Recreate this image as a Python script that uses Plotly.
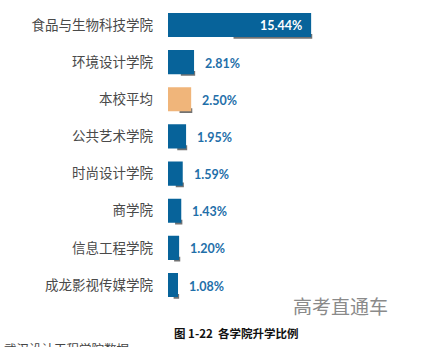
import plotly.graph_objects as go

# 各学院升学比例（%）
colleges = ["食品与生物科技学院", "环境设计学院", "本校平均", "公共艺术学院",
            "时尚设计学院", "商学院", "信息工程学院", "成龙影视传媒学院"]
rates = [15.44, 2.81, 2.50, 1.95, 1.59, 1.43, 1.20, 1.08]
value_labels = ["15.44%", "2.81%", "2.50%", "1.95%", "1.59%", "1.43%", "1.20%", "1.08%"]

BLUE = "#07639a"
ORANGE = "#f0b57a"
bar_colors = [ORANGE if c == "本校平均" else BLUE for c in colleges]

W, H = 423, 347
fig = go.Figure()

# soft curled shadow under the right part of each bar
fig.add_trace(go.Bar(
    y=colleges, x=[v * 0.55 for v in rates], base=[v * 0.45 + 0.12 for v in rates],
    orientation="h", width=0.13, offset=0.24,
    marker=dict(color="rgba(20,20,20,0.6)", line=dict(width=0)),
    hoverinfo="skip", showlegend=False,
))

fig.add_trace(go.Bar(
    y=colleges, x=rates, orientation="h", width=0.65,
    marker=dict(color=bar_colors, line=dict(width=0)),
    showlegend=False,
))

# value labels
for i, (c, v, t) in enumerate(zip(colleges, rates, value_labels)):
    inside = i == 0
    fig.add_annotation(
        x=v, y=c, xref="x", yref="y", text=f"<b>{t}</b>",
        showarrow=False, xanchor="right" if inside else "left",
        xshift=-7 if inside else 9, yshift=-1,
        font=dict(family="Lato, Open Sans, sans-serif", size=12.5,
                  color="white" if inside else "#1f6fa9"),
    )

# watermark and caption
fig.add_annotation(x=340 / W, y=1 - 305 / H, xref="paper", yref="paper",
                   xanchor="center", yanchor="middle",
                   text="高考直通车", showarrow=False,
                   font=dict(family="Noto Sans CJK SC", size=19, color="#8a8a8a"))
fig.add_annotation(x=236 / W, y=1 - 333 / H, xref="paper", yref="paper",
                   xanchor="center", yanchor="middle",
                   text="<b>图 1-22  各学院升学比例</b>", showarrow=False,
                   font=dict(family="Noto Sans CJK SC", size=11.5, color="#111"))
# source line running off the bottom edge of the page
fig.add_annotation(x=2 / W, y=1 - 337 / H, xref="paper", yref="paper",
                   xanchor="left", yanchor="top", text="武汉设计工程学院数据",
                   showarrow=False,
                   font=dict(family="Noto Sans CJK SC", size=12.5, color="#444"))

fig.update_layout(
    width=W, height=H, margin=dict(l=0, r=0, t=0, b=0),
    paper_bgcolor="white", plot_bgcolor="white", barmode="overlay",
    xaxis=dict(domain=[168 / W, (168 + 20 * 9.27) / W], range=[0, 20],
               visible=False, fixedrange=True),
    yaxis=dict(domain=[1 - 303.6 / H, 1 - 6.4 / H], autorange="reversed",
               showgrid=False, zeroline=False, showline=False, ticks="",
               ticklabelstandoff=14,
               tickfont=dict(family="Noto Sans CJK SC", size=13.5, color="#4a4a4a")),
)

fig.write_html("out.html")
